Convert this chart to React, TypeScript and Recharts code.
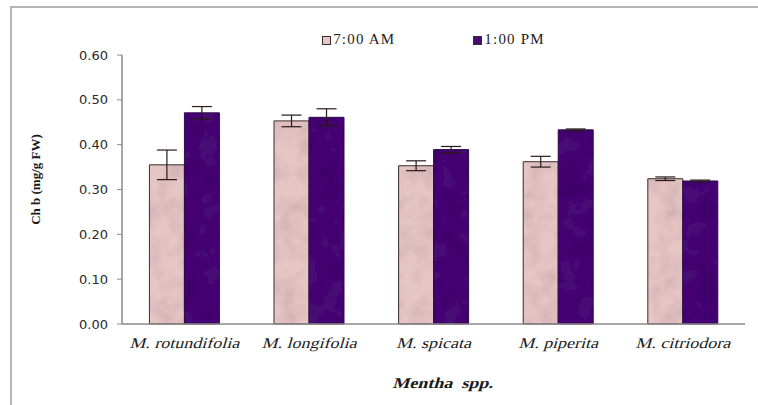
import React from "react";
import { BarChart, Bar, XAxis, YAxis, ErrorBar, Legend, Label } from "recharts";

const categories = ["M. rotundifolia", "M. longifolia", "M. spicata", "M. piperita", "M. citriodora"];
const morning = [0.355, 0.453, 0.353, 0.362, 0.324];
const afternoon = [0.471, 0.461, 0.389, 0.433, 0.319];
const morningErr = [0.033, 0.013, 0.011, 0.012, 0.004];
const afternoonErr = [0.014, 0.019, 0.007, 0.002, 0.002];
const yTicks = [0, 0.1, 0.2, 0.3, 0.4, 0.5, 0.6];

const seriesNames = ["7:00 AM", "1:00 PM"];
const xTitle = "Mentha\u00a0\u00a0spp.";
const PINK = "#e6c5c5";
const PURPLE = "#470c74";
const SERIF = "Liberation Serif";
const SANS = "DejaVu Sans";

const data = categories.map((name, i) => ({
  name,
  am: morning[i],
  pm: afternoon[i],
  amErr: morningErr[i],
  pmErr: afternoonErr[i],
}));

function LegendBox() {
  const swatch = (color: string) => ({
    display: "inline-block",
    width: 7,
    height: 7,
    background: color,
    border: "1px solid #3b2b2b",
    marginRight: 2,
    verticalAlign: "middle",
  });
  return (
    <div style={{ display: "flex", justifyContent: "center", gap: 78, fontFamily: SERIF, fontSize: 15, letterSpacing: 1.2, color: "#222", lineHeight: "17px" }}>
      <span><span style={swatch(PINK)} />{seriesNames[0]}</span>
      <span><span style={swatch(PURPLE)} />{seriesNames[1]}</span>
    </div>
  );
}

// slanted, widened serif text (upright face skewed into an italic)
function SlantText({ x, y, bold, children }: { x: number; y: number; bold?: boolean; children: React.ReactNode }) {
  return (
    <g transform={`translate(${x},${y}) scale(1.2,1) skewX(-14)`}>
      <text x={0} y={0} textAnchor="middle" style={{ fontFamily: SERIF, fontWeight: bold ? 700 : 400, fontSize: 15, fill: "#1a1a1a" }}>
        {children}
      </text>
    </g>
  );
}

function CategoryTick(props: any) {
  const { x, y, payload } = props;
  return <SlantText x={x} y={y + 14}>{payload.value}</SlantText>;
}

function AxisTitle(props: any) {
  const vb = props.viewBox;
  return <SlantText x={vb.x + vb.width / 2 + 9} y={vb.y + vb.height - 17} bold>{xTitle}</SlantText>;
}

export default function App() {
  return (
    <div style={{ position: "relative", width: 758, height: 405, background: "#fff" }}>
      <style>{`body{margin:0}`}</style>
      <div style={{ position: "absolute", left: 10, top: 6, width: 760, height: 410, borderTop: "2px solid #b4b4b4", borderLeft: "2px solid #b4b4b4" }} />
      <BarChart
        width={758}
        height={405}
        data={data}
        margin={{ top: 38, right: 13, bottom: 0, left: 0 }}
        barCategoryGap="22%"
        barGap={0}
        style={{ position: "absolute", left: 0, top: 0 }}
      >
        <defs>
          <filter id="grain" x="0" y="0" width="100%" height="100%">
            <feTurbulence type="fractalNoise" baseFrequency="0.05" numOctaves="3" seed="4" result="noise" />
            <feColorMatrix in="noise" type="matrix" values="0 0 0 0 0  0 0 0 0 0  0 0 0 0 0  0.4 0 0 0 -0.15" result="shade" />
            <feComposite in="shade" in2="SourceGraphic" operator="in" result="clipped" />
            <feMerge>
              <feMergeNode in="SourceGraphic" />
              <feMergeNode in="clipped" />
            </feMerge>
          </filter>
          <pattern id="pinkTex" patternUnits="userSpaceOnUse" width="758" height="405">
            <rect width="758" height="405" fill={PINK} filter="url(#grain)" />
          </pattern>
          <pattern id="purpleTex" patternUnits="userSpaceOnUse" width="758" height="405">
            <rect width="758" height="405" fill={PURPLE} filter="url(#grain)" />
          </pattern>
        </defs>
        <XAxis
          dataKey="name"
          height={81}
          axisLine={{ stroke: "#8a8a8a", strokeWidth: 1.5 }}
          tickLine={false}
          tickMargin={4}
          tick={<CategoryTick />}
        >
          <Label content={<AxisTitle />} />
        </XAxis>
        <YAxis
          width={122}
          domain={[0, 0.6]}
          ticks={yTicks}
          interval={0}
          tickFormatter={(v: number) => v.toFixed(2)}
          axisLine={{ stroke: "#8a8a8a", strokeWidth: 1.5 }}
          tickLine={{ stroke: "#8a8a8a" }}
          tickSize={5}
          tickMargin={9}
          tick={{ fontFamily: SANS, fontSize: 13, fill: "#2a2a2a" }}
        >
          <Label
            value="Ch b (mg/g FW)"
            angle={-90}
            position="insideLeft"
            offset={35}
            dy={-10}
            style={{ fontFamily: SERIF, fontWeight: 700, fontSize: 13, fill: "#1a1a1a", textAnchor: "middle" }}
          />
        </YAxis>
        <Legend verticalAlign="top" content={() => <LegendBox />} wrapperStyle={{ top: 31, left: 122, width: 623 }} />
        <Bar dataKey="am" name={seriesNames[0]} fill="url(#pinkTex)" stroke="#3b2b2b" strokeWidth={1} isAnimationActive={false}>
          <ErrorBar dataKey="amErr" width={10} stroke="#2a1a1a" strokeWidth={1.2} />
        </Bar>
        <Bar dataKey="pm" name={seriesNames[1]} fill="url(#purpleTex)" stroke="#2e0a4a" strokeWidth={1} isAnimationActive={false}>
          <ErrorBar dataKey="pmErr" width={10} stroke="#2a1a1a" strokeWidth={1.2} />
        </Bar>
      </BarChart>
    </div>
  );
}
